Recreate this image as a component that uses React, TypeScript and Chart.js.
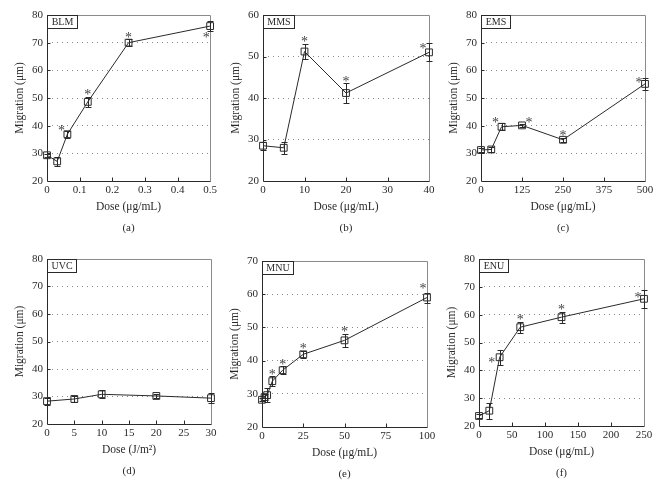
import React, { useEffect, useRef } from 'react';
import { Chart, registerables } from 'chart.js';

Chart.register(...registerables);

// ---------- data ----------
// (a) BLM
const blmDose = [0, 0.03125, 0.0625, 0.125, 0.25, 0.5];
const blmMig = [29.3, 27.1, 36.9, 48.6, 70.0, 76.0];
const blmErr = [0.5, 1.5, 1.3, 1.8, 1.2, 1.7];
const blmSig = [0, 0, 1, 1, 1, 1];
const blmStar = ['', '', 'nw', 'top', 'top', 'sw'];

// (b) MMS
const mmsDose = [0, 5, 10, 20, 40];
const mmsMig = [28.5, 28.0, 51.2, 41.2, 51.0];
const mmsErr = [1.0, 1.5, 1.9, 2.3, 2.2];
const mmsSig = [0, 0, 1, 1, 1];
const mmsStar = ['', '', 'top', 'top', 'nw'];

// (c) EMS
const emsDose = [0, 31.25, 62.5, 125, 250, 500];
const emsMig = [31.2, 31.4, 39.6, 40.1, 34.9, 55.1];
const emsErr = [0.8, 0.8, 1.3, 0.5, 0.7, 2.3];
const emsSig = [0, 0, 1, 1, 1, 1];
const emsStar = ['', '', 'nw', 'ne', 'top', 'wnw'];

// (d) UVC
const uvcDose = [0, 5, 10, 20, 30];
const uvcMig = [28.3, 29.1, 30.8, 30.2, 29.4];
const uvcErr = [1.3, 1.0, 1.5, 0.8, 1.7];
const uvcSig = [0, 0, 0, 0, 0];
const uvcStar = ['', '', '', '', ''];

// (e) MNU
const mnuDose = [0, 1.5625, 3.125, 6.25, 12.5, 25, 50, 100];
const mnuMig = [28.2, 29.0, 29.6, 33.8, 37.1, 41.9, 46.1, 59.0];
const mnuErr = [0.5, 1.0, 2.1, 1.5, 1.2, 1.0, 2.0, 1.5];
const mnuSig = [0, 0, 0, 1, 1, 1, 1, 1];
const mnuStar = ['', '', '', 'top', 'top', 'top', 'top', 'ntl'];

// (f) ENU
const enuDose = [0, 15.625, 31.25, 62.5, 125, 250];
const enuMig = [23.6, 25.5, 44.7, 55.5, 59.1, 65.7];
const enuErr = [0.8, 2.9, 2.7, 2.0, 2.0, 3.2];
const enuSig = [0, 0, 1, 1, 1, 1];
const enuStar = ['', '', 'w', 'top', 'top', 'wnw'];

const yTitle = 'Migration (μm)';
const doseTitle = 'Dose (μg/mL)';
const uvTitle = 'Dose (J/m²)';

// ---------- styles ----------
const FONT = "'Liberation Serif', 'DejaVu Serif', serif";
const INK = '#2a2a2a';
const W = 220;
const H = 241;

type Area = { l: number; r: number; t: number; b: number };
type Panel = {
  label: string; caption: string; xTitle: string;
  xMax: number; xStep: number; yMax: number;
  dose: number[]; mig: number[]; err: number[]; sig: number[]; star: string[];
  area: Area; col: number; row: number;
};

const panels: Panel[] = [
  { label: 'BLM', caption: '(a)', xTitle: doseTitle, xMax: 0.5, xStep: 0.1, yMax: 80,
    dose: blmDose, mig: blmMig, err: blmErr, sig: blmSig, star: blmStar,
    area: { l: 47, r: 213, t: 15, b: 181 }, col: 0, row: 0 },
  { label: 'MMS', caption: '(b)', xTitle: doseTitle, xMax: 40, xStep: 10, yMax: 60,
    dose: mmsDose, mig: mmsMig, err: mmsErr, sig: mmsSig, star: mmsStar,
    area: { l: 43, r: 209, t: 15, b: 181 }, col: 1, row: 0 },
  { label: 'EMS', caption: '(c)', xTitle: doseTitle, xMax: 500, xStep: 125, yMax: 80,
    dose: emsDose, mig: emsMig, err: emsErr, sig: emsSig, star: emsStar,
    area: { l: 41, r: 205, t: 15, b: 181 }, col: 2, row: 0 },
  { label: 'UVC', caption: '(d)', xTitle: uvTitle, xMax: 30, xStep: 5, yMax: 80,
    dose: uvcDose, mig: uvcMig, err: uvcErr, sig: uvcSig, star: uvcStar,
    area: { l: 47, r: 211, t: 18, b: 183 }, col: 0, row: 1 },
  { label: 'MNU', caption: '(e)', xTitle: doseTitle, xMax: 100, xStep: 25, yMax: 70,
    dose: mnuDose, mig: mnuMig, err: mnuErr, sig: mnuSig, star: mnuStar,
    area: { l: 42, r: 207, t: 20, b: 186 }, col: 1, row: 1 },
  { label: 'ENU', caption: '(f)', xTitle: doseTitle, xMax: 250, xStep: 50, yMax: 80,
    dose: enuDose, mig: enuMig, err: enuErr, sig: enuSig, star: enuStar,
    area: { l: 39, r: 204, t: 18, b: 185 }, col: 2, row: 1 },
];

const STAR_AT: Record<string, (px: number, py: number, top: number) => [number, number]> = {
  top: (px, _py, top) => [px, top - 5],
  nw: (px, py) => [px - 6, py - 7],
  wnw: (px, py) => [px - 6, py - 4],
  w: (px, py) => [px - 8, py + 2],
  ne: (px, py) => [px + 7, py - 6],
  sw: (px, py) => [px - 4, py + 9],
  ntl: (px, py) => [px - 4, py - 12],
};

const crisp = (v: number) => Math.round(v) + 0.5;

const decor = {
  id: 'decor',
  beforeDatasetsDraw(chart: any, _a: any, o: any) {
    const p: Panel = o.panel;
    const { ctx, chartArea: ca } = chart;
    const xs = chart.scales.x;
    const ys = chart.scales.y;
    ctx.save();
    // frame
    ctx.lineWidth = 1;
    ctx.strokeStyle = '#8a8a8a';
    ctx.beginPath();
    ctx.moveTo(crisp(ca.left), crisp(ca.top));
    ctx.lineTo(crisp(ca.right), crisp(ca.top));
    ctx.lineTo(crisp(ca.right), crisp(ca.bottom));
    ctx.stroke();
    ctx.strokeStyle = INK;
    ctx.beginPath();
    ctx.moveTo(crisp(ca.left), crisp(ca.top));
    ctx.lineTo(crisp(ca.left), crisp(ca.bottom));
    ctx.lineTo(crisp(ca.right), crisp(ca.bottom));
    ctx.stroke();
    // inward ticks
    ctx.beginPath();
    xs.ticks.forEach((t: any) => {
      if (t.value <= xs.min || t.value >= xs.max) return;
      const x = crisp(xs.getPixelForValue(t.value));
      ctx.moveTo(x, crisp(ca.bottom));
      ctx.lineTo(x, crisp(ca.bottom) - 4);
    });
    ys.ticks.forEach((t: any) => {
      if (t.value <= ys.min || t.value >= ys.max) return;
      const y = crisp(ys.getPixelForValue(t.value));
      ctx.moveTo(crisp(ca.left), y);
      ctx.lineTo(crisp(ca.left) + 3, y);
    });
    ctx.stroke();
    // error bars
    ctx.strokeStyle = INK;
    ctx.beginPath();
    p.dose.forEach((d, i) => {
      const x = crisp(xs.getPixelForValue(d));
      const y1 = Math.round(ys.getPixelForValue(p.mig[i] + p.err[i])) + 0.5;
      const y2 = Math.round(ys.getPixelForValue(p.mig[i] - p.err[i])) + 0.5;
      ctx.moveTo(x, y1); ctx.lineTo(x, y2);
      ctx.moveTo(x - 3, y1); ctx.lineTo(x + 3, y1);
      ctx.moveTo(x - 3, y2); ctx.lineTo(x + 3, y2);
    });
    ctx.stroke();
    ctx.restore();
  },
  afterDatasetsDraw(chart: any, _a: any, o: any) {
    const p: Panel = o.panel;
    const { ctx, chartArea: ca } = chart;
    const xs = chart.scales.x;
    const ys = chart.scales.y;
    ctx.save();
    // significance stars
    ctx.fillStyle = '#444';
    ctx.font = `14px ${FONT}`;
    ctx.textAlign = 'center';
    ctx.textBaseline = 'alphabetic';
    p.dose.forEach((d, i) => {
      if (!p.sig[i]) return;
      const px = xs.getPixelForValue(d);
      const py = ys.getPixelForValue(p.mig[i]);
      const top = ys.getPixelForValue(p.mig[i] + p.err[i]);
      const f = STAR_AT[p.star[i]] || STAR_AT.top;
      const [sx, sy] = f(px, py, top);
      ctx.fillText('*', sx, sy + 7.4);
    });
    // label box
    ctx.font = `10px ${FONT}`;
    const tw = ctx.measureText(p.label).width;
    const bw = Math.round(tw + 8);
    const bh = 13;
    ctx.fillStyle = '#fff';
    ctx.fillRect(crisp(ca.left), crisp(ca.top), bw, bh);
    ctx.strokeStyle = INK;
    ctx.lineWidth = 1;
    ctx.strokeRect(crisp(ca.left), crisp(ca.top), bw, bh);
    ctx.fillStyle = INK;
    ctx.textAlign = 'center';
    ctx.textBaseline = 'middle';
    ctx.fillText(p.label, crisp(ca.left) + bw / 2, crisp(ca.top) + bh / 2 + 0.5);
    // caption
    ctx.font = `11px ${FONT}`;
    ctx.fillText(p.caption, (ca.left + ca.right) / 2, ca.bottom + 47);
    ctx.restore();
  },
};

function PanelChart({ p }: { p: Panel }) {
  const ref = useRef<HTMLCanvasElement>(null);
  useEffect(() => {
    const a = p.area;
    const chart = new Chart(ref.current as HTMLCanvasElement, {
      type: 'line',
      data: {
        datasets: [{
          data: p.dose.map((d, i) => ({ x: d, y: p.mig[i] })),
          borderColor: INK,
          borderWidth: 1,
          pointStyle: 'rect',
          pointRadius: 4.8,
          pointBorderColor: INK,
          pointBackgroundColor: 'rgba(0,0,0,0)',
          pointBorderWidth: 1,
          tension: 0,
          clip: false,
        } as any],
      },
      options: {
        responsive: false,
        animation: false,
        devicePixelRatio: 1,
        layout: { padding: { left: a.l - 36, right: W - a.r, top: a.t, bottom: H - a.b - 33 } },
        plugins: {
          legend: { display: false },
          tooltip: { enabled: false },
          decor: { panel: p },
        } as any,
        scales: {
          x: {
            type: 'linear', min: 0, max: p.xMax,
            ticks: { stepSize: p.xStep, padding: 3, color: INK, font: { family: FONT, size: 11 }, maxRotation: 0, autoSkip: false },
            grid: { display: false, drawTicks: false },
            border: { display: false },
            title: { display: true, text: p.xTitle, color: INK, font: { family: FONT, size: 11.5 }, padding: 0 },
            afterFit: (s: any) => { s.height = 33; },
          },
          y: {
            type: 'linear', min: 20, max: p.yMax,
            ticks: { stepSize: 10, padding: 4, color: INK, font: { family: FONT, size: 11 } },
            grid: {
              drawTicks: false,
              borderDash: [1, 4],
              lineWidth: 1,
              color: (c: any) => (c.tick && (c.tick.value <= 20 || c.tick.value >= p.yMax)) ? 'rgba(0,0,0,0)' : '#8c8c8c',
            } as any,
            border: { display: false, dash: [1, 4] },
            title: { display: true, text: yTitle, color: INK, font: { family: FONT, size: 11.5 }, padding: { top: 2, bottom: 0 } },
            afterFit: (s: any) => { s.width = 36; },
          },
        },
      } as any,
      plugins: [decor],
    });
    return () => chart.destroy();
  }, [p]);
  return (
    <canvas
      ref={ref}
      width={W}
      height={H}
      style={{ position: 'absolute', left: p.col * W, top: p.row * H, width: W, height: H }}
    />
  );
}

export default function App() {
  return (
    <div style={{ position: 'absolute', left: 0, top: 0, width: 660, height: 482, background: '#fff', overflow: 'hidden' }}>
      {panels.map((p) => <PanelChart key={p.label} p={p} />)}
    </div>
  );
}
